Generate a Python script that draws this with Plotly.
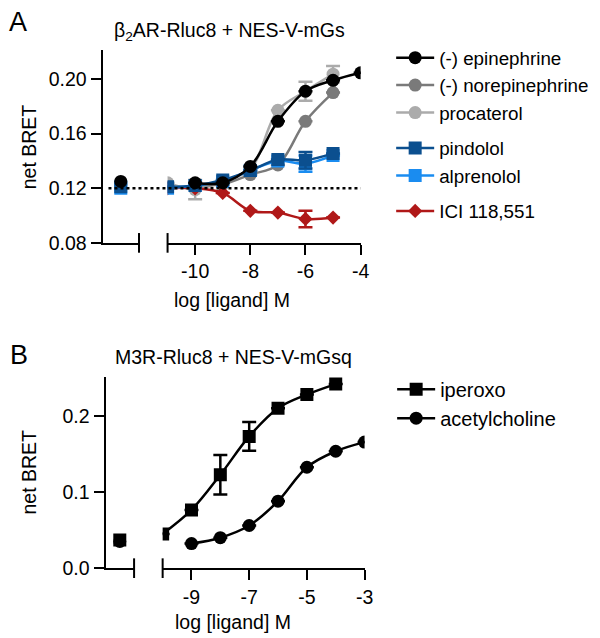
import plotly.graph_objects as go

# ---------------- Data ----------------
# Panel A: beta2AR-Rluc8 + NES-V-mGs
a_names = ["(-) epinephrine", "(-) norepinephrine", "procaterol", "pindolol", "alprenolol", "ICI 118,551"]
a_colors = ["#000000", "#7a7a7a", "#ababab", "#0b4f8f", "#1a8cf0", "#b01818"]
a_symbols = ["circle", "circle", "circle", "square", "square", "diamond"]
a_groups = ["ag", "ag", "ag", "ant", "ant", "inv"]

epi_x = [-10, -9, -8, -7, -6, -5, -4]
epi_y = [0.124, 0.124, 0.136, 0.169, 0.191, 0.199, 0.2045]
epi_e = [0, 0, 0, 0, 0, 0, 0]
epi_basal = 0.125

nor_x = [-10, -9, -8, -7, -6, -5]
nor_y = [0.122, 0.123, 0.130, 0.137, 0.169, 0.190]
nor_e = [0, 0, 0, 0, 0, 0]
nor_basal = 0.123

pro_x = [-11, -10, -9, -8, -7, -6, -5]
pro_y = [0.124, 0.119, 0.125, 0.134, 0.177, 0.191, 0.2035]
pro_e = [0, 0.007, 0, 0, 0, 0.007, 0.006]
pro_basal = 0.124

pin_x = [-11, -10, -9, -8, -7, -6, -5]
pin_y = [0.121, 0.122, 0.126, 0.133, 0.141, 0.1405, 0.1455]
pin_e = [0, 0, 0, 0, 0, 0.006, 0]
pin_basal = 0.121

alp_x = [-11, -10, -9, -8, -7, -6, -5]
alp_y = [0.120, 0.122, 0.125, 0.133, 0.140, 0.138, 0.1440]
alp_e = [0, 0, 0, 0, 0, 0.006, 0]
alp_basal = 0.120

ici_x = [-11, -10, -9, -8, -7, -6, -5]
ici_y = [0.120, 0.120, 0.1166, 0.1035, 0.1022, 0.0975, 0.0985]
ici_e = [0, 0, 0, 0, 0, 0.006, 0]

a_x = [epi_x, nor_x, pro_x, pin_x, alp_x, ici_x]
a_y = [epi_y, nor_y, pro_y, pin_y, alp_y, ici_y]
a_e = [epi_e, nor_e, pro_e, pin_e, alp_e, ici_e]
a_basal = [epi_basal, nor_basal, pro_basal, pin_basal, alp_basal, None]
a_draw_order = [2, 1, 5, 4, 3, 0]

a_yticks = [0.08, 0.12, 0.16, 0.20]
a_xticks = [-10, -8, -6, -4]
a_xtext = ["-10", "-8", "-6", "-4"]
a_baseline = 0.12

# Panel B: M3R-Rluc8 + NES-V-mGsq
b_names = ["iperoxo", "acetylcholine"]
b_symbols = ["square", "circle"]
ipe_x = [-10, -9, -8, -7, -6, -5, -4]
ipe_y = [0.045, 0.0765, 0.1226, 0.173, 0.210, 0.228, 0.2417]
ipe_e = [0, 0, 0.026, 0.019, 0, 0, 0]
ipe_basal = 0.037
ach_x = [-9, -8, -7, -6, -5, -4, -3]
ach_y = [0.0323, 0.040, 0.056, 0.088, 0.1325, 0.1535, 0.1655]
ach_e = [0, 0, 0, 0, 0, 0, 0]
ach_basal = 0.035
b_x = [ipe_x, ach_x]
b_y = [ipe_y, ach_y]
b_e = [ipe_e, ach_e]
b_basal = [ipe_basal, ach_basal]

b_yticks = [0.0, 0.1, 0.2]
b_ytext = ["0.0", "0.1", "0.2"]
b_xticks = [-9, -7, -5, -3]
b_xtext = ["-9", "-7", "-5", "-3"]

# ---------------- Layout helpers ----------------
W, H = 600, 638
FONT = "Liberation Sans, Arial, Helvetica, sans-serif"
FS = 19.5


def px(x):
    return x / W


def py(y):
    return 1 - y / H


A_dom_y = [py(239), py(43)]
A_dom_xl = [px(96), px(133)]
A_dom_xr = [px(162), px(358)]
B_dom_y = [py(570), py(375)]
B_dom_xl = [px(99), px(128)]
B_dom_xr = [px(157), px(362)]

fig = go.Figure()

# Panel A traces
for i in a_draw_order:
    fig.add_trace(go.Scatter(
        x=a_x[i], y=a_y[i], mode="lines+markers", name=a_names[i],
        line=dict(color=a_colors[i], width=2.5, shape="spline", smoothing=1.0),
        marker=dict(color=a_colors[i], symbol=a_symbols[i], size=11 if a_symbols[i] == "diamond" else 13),
        error_y=dict(type="data", array=a_e[i], color=a_colors[i], thickness=2.5, width=7),
        xaxis="x2", yaxis="y", legend="legend", legendgroup=a_groups[i], legendrank=i + 1,
    ))
    if a_basal[i] is not None:
        fig.add_trace(go.Scatter(
            x=[0.5], y=[a_basal[i]], mode="markers", showlegend=False,
            marker=dict(color=a_colors[i], symbol=a_symbols[i], size=13),
            xaxis="x", yaxis="y",
        ))

# Panel B traces
for i in range(2):
    fig.add_trace(go.Scatter(
        x=b_x[i], y=b_y[i], mode="lines+markers", name=b_names[i],
        line=dict(color="black", width=2.5, shape="spline", smoothing=1.0),
        marker=dict(color="black", symbol=b_symbols[i], size=13),
        error_y=dict(type="data", array=b_e[i], color="black", thickness=2.5, width=7),
        xaxis="x4", yaxis="y2", legend="legend2",
    ))
    fig.add_trace(go.Scatter(
        x=[0.5], y=[b_basal[i]], mode="markers", showlegend=False,
        marker=dict(color="black", symbol=b_symbols[i], size=13),
        xaxis="x3", yaxis="y2",
    ))

axcommon = dict(showline=True, linewidth=2, linecolor="black", showgrid=False, zeroline=False,
                ticks="outside", ticklen=10, tickwidth=2, tickcolor="black",
                tickfont=dict(family=FONT, size=FS, color="black"))

fig.update_layout(
    width=W, height=H, margin=dict(l=0, r=0, t=0, b=0),
    paper_bgcolor="white", plot_bgcolor="white",
    font=dict(family=FONT, size=FS, color="black"),
    xaxis=dict(domain=A_dom_xl, range=[0, 1], anchor="y", **{**axcommon, "ticks": "", "showticklabels": False}),
    xaxis2=dict(domain=A_dom_xr, range=[-11, -4], anchor="y", tickvals=a_xticks, ticktext=a_xtext, **axcommon),
    yaxis=dict(domain=A_dom_y, range=[0.08, 0.221], anchor="x", tickvals=a_yticks, tickformat=".2f", **axcommon),
    xaxis3=dict(domain=B_dom_xl, range=[0, 1], anchor="y2", **{**axcommon, "ticks": "", "showticklabels": False}),
    xaxis4=dict(domain=B_dom_xr, range=[-10, -3], anchor="y2", tickvals=b_xticks, ticktext=b_xtext, **axcommon),
    yaxis2=dict(domain=B_dom_y, range=[0, 0.2516], anchor="x3", tickvals=b_yticks, ticktext=b_ytext, **axcommon),
    legend=dict(x=px(389), y=py(31.5), xanchor="left", yanchor="top", traceorder="grouped",
                tracegroupgap=8, itemwidth=38, bgcolor="rgba(0,0,0,0)",
                font=dict(family=FONT, size=18.8, color="black")),
    legend2=dict(x=px(390), y=py(368), xanchor="left", yanchor="top",
                 itemwidth=38, bgcolor="rgba(0,0,0,0)",
                 font=dict(family=FONT, size=20, color="black")),
    showlegend=True,
)

# Dotted baseline across panel A
fig.add_shape(type="line", xref="paper", yref="y", x0=A_dom_xl[0] + px(6), x1=A_dom_xr[1],
              y0=a_baseline, y1=a_baseline, line=dict(color="black", width=2.5, dash="dot"))

# Axis break caps
cap = 10
for xd, yd, edge in [(A_dom_xl, A_dom_y, 1), (A_dom_xr, A_dom_y, 0), (B_dom_xl, B_dom_y, 1), (B_dom_xr, B_dom_y, 0)]:
    xx = xd[edge]
    fig.add_shape(type="line", xref="paper", yref="paper", x0=xx, x1=xx,
                  y0=yd[0] - cap / H, y1=yd[0] + cap / H, line=dict(color="black", width=2))

for t, x, y in [("A", 0, 14), ("B", 1, 353)]:
    fig.add_annotation(text=t, x=px(x), y=py(y), xref="paper", yref="paper",
                       xanchor="left", yanchor="middle", showarrow=False, borderpad=0,
                       font=dict(family=FONT, size=27, color="black"))

titles = [
    ("β<sub>2</sub>AR-Rluc8 + NES-V-mGs", px(225), py(24)),
    ("M3R-Rluc8 + NES-V-mGsq", px(229), py(355)),
    ("log [ligand] M", px(227), py(297)),
    ("log [ligand] M", px(228), py(625)),
]
for t, x, y in titles:
    fig.add_annotation(text=t, x=x, y=y, xref="paper", yref="paper", xanchor="center", yanchor="middle",
                       showarrow=False, font=dict(family=FONT, size=FS, color="black"))

for y in [141, 472]:
    fig.add_annotation(text="net BRET", x=px(21), y=py(y), xref="paper", yref="paper", textangle=-90,
                       xanchor="center", yanchor="middle", showarrow=False,
                       font=dict(family=FONT, size=FS, color="black"))

fig.write_html("out.html")
